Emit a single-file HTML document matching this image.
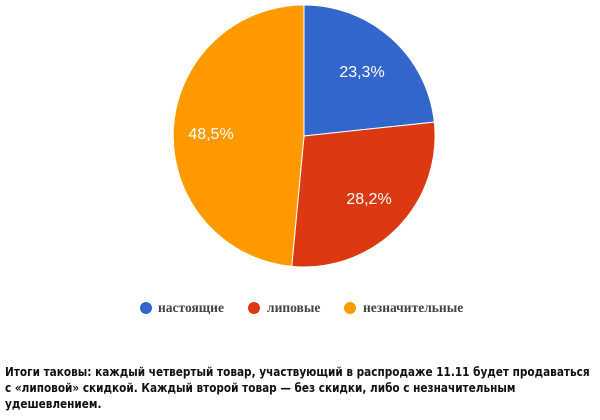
<!DOCTYPE html>
<html><head><meta charset="utf-8"><style>
body{margin:0;width:600px;height:420px;background:#fff;overflow:hidden;position:relative}
.t{position:absolute;left:5px;top:364px;width:680px;font:bold 12px/16px "DejaVu Sans",sans-serif;color:#111;white-space:nowrap;transform:scaleX(0.875);transform-origin:0 0}
</style></head><body>
<svg width="600" height="340" style="position:absolute;left:0;top:0">
<path d="M304,136 L304,5 A131,131 0 0 1 434.3,122.1 Z" fill="#3366cc" stroke="#fff" stroke-width="1"/>
<path d="M304,136 L434.3,122.1 A131,131 0 0 1 291.7,266.4 Z" fill="#dc3912" stroke="#fff" stroke-width="1"/>
<path d="M304,136 L291.7,266.4 A131,131 0 0 1 304,5 Z" fill="#ff9900" stroke="#fff" stroke-width="1"/>
<g font-family="Liberation Sans, sans-serif" font-size="16" fill="#fff" text-anchor="middle">
<text x="362" y="77">23,3%</text>
<text x="369" y="204">28,2%</text>
<text x="211" y="139">48,5%</text>
</g>
<g font-family="Liberation Serif, serif" font-size="13.5" font-weight="bold" fill="#444">
<circle cx="146" cy="308" r="6" fill="#3366cc"/><text x="158" y="312">настоящие</text>
<circle cx="254" cy="308" r="6" fill="#dc3912"/><text x="267" y="312">липовые</text>
<circle cx="350" cy="308" r="6" fill="#ff9900"/><text x="363" y="312">незначительные</text>
</g>
</svg>
<div class="t">Итоги таковы: каждый четвертый товар, участвующий в распродаже 11.11 будет продаваться<br>с «липовой» скидкой. Каждый второй товар — без скидки, либо с незначительным<br>удешевлением.</div>
</body></html>
